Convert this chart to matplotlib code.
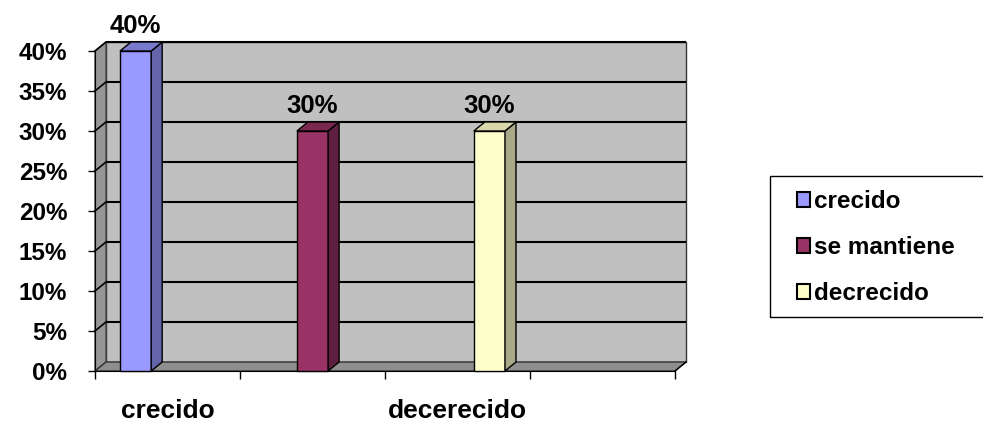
import matplotlib
matplotlib.use("Agg")
import matplotlib.pyplot as plt
from matplotlib.patches import Polygon, Rectangle, Patch

# ── data ──────────────────────────────────────────────────────────────────────
categories = ["crecido", "", "decerecido", ""]
series_names = ["crecido", "se mantiene", "decrecido"]
crecido = [40, 0, 0, 0]
se_mantiene = [0, 30, 0, 0]
decrecido = [0, 0, 30, 0]
y_ticks = [0, 5, 10, 15, 20, 25, 30, 35, 40]

# ── style ─────────────────────────────────────────────────────────────────────
front = ["#9999FF", "#993366", "#FFFFCC"]
side = ["#6464AA", "#5E1F40", "#A9A98A"]
top = ["#7878CC", "#7A2850", "#D8D8AA"]
wall = "#C0C0C0"
side_wall = "#979797"
floor = "#8E8E8E"

plt.rcParams["font.family"] = ["Liberation Sans", "DejaVu Sans"]
plt.rcParams["font.weight"] = "bold"

fig = plt.figure(figsize=(9.83, 4.26), dpi=100)
W, H = 983, 426
ax = fig.add_axes([95 / W, 55 / H, 580 / W, 320 / H])
ncat = len(categories)
ymax = y_ticks[-1]
ax.set_xlim(0, ncat)
ax.set_ylim(0, ymax)
ax.patch.set_visible(False)

# depth of the fake 3D box, in data units (~11 px across, ~9 px up)
DX = 11 / 145
DY = 9 / 8

# walls
ax.add_patch(Polygon([(DX, DY), (ncat + DX, DY), (ncat + DX, ymax + DY), (DX, ymax + DY)],
                     closed=True, facecolor=wall, edgecolor="#333333", lw=1.0,
                     zorder=0.5, clip_on=False))
ax.add_patch(Polygon([(0, 0), (DX, DY), (DX, ymax + DY), (0, ymax)],
                     closed=True, facecolor=side_wall, edgecolor="#444444", lw=1.0,
                     zorder=0.6, clip_on=False))
ax.add_patch(Polygon([(0, 0), (ncat, 0), (ncat + DX, DY), (DX, DY)],
                     closed=True, facecolor=floor, edgecolor="#333333", lw=1.0,
                     zorder=0.7, clip_on=False))

# gridlines on back wall and left wall
for t in y_ticks[1:]:
    ax.plot([DX, ncat + DX], [t + DY, t + DY], color="black", lw=1.5,
            zorder=1, clip_on=False, solid_capstyle="butt")
    ax.plot([0, DX], [t, t + DY], color="black", lw=1.2, zorder=1, clip_on=False)

# bars: front faces via ax.bar, side/top faces as polygons
bw = 0.215
offsets = [-0.22, 0.0, 0.22]
for i, vals in enumerate([crecido, se_mantiene, decrecido]):
    xs = [c + 0.5 + offsets[i] for c in range(ncat)]
    xv = [x for x, v in zip(xs, vals) if v > 0]
    vv = [v for v in vals if v > 0]
    ax.bar(xv, vv, width=bw, color=front[i], edgecolor="black", lw=1.0,
           zorder=3, clip_on=False)
    for x, v in zip(xv, vv):
        r, l = x + bw / 2, x - bw / 2
        ax.add_patch(Polygon([(r, 0), (r + DX, DY), (r + DX, v + DY), (r, v)],
                             closed=True, facecolor=side[i], edgecolor="black",
                             lw=1.0, zorder=3, clip_on=False))
        ax.add_patch(Polygon([(l, v), (l + DX, v + DY), (r + DX, v + DY), (r, v)],
                             closed=True, facecolor=top[i], edgecolor="black",
                             lw=1.0, zorder=3, clip_on=False))
        ax.annotate(f"{v}%", (x, v + DY), xytext=(0, 3), textcoords="offset points",
                    ha="center", va="bottom", fontsize=18.5, fontweight="bold",
                    annotation_clip=False)

# axes lines and ticks
for s in ["top", "right"]:
    ax.spines[s].set_visible(False)
ax.spines["left"].set_color("black")
ax.spines["bottom"].set_color("black")
ax.plot([ncat, ncat + DX], [0, DY], color="black", lw=1.0, clip_on=False, zorder=1)

ax.set_yticks(y_ticks)
ax.set_yticklabels([f"{t}%" for t in y_ticks], fontsize=17.5, fontweight="bold")
ax.tick_params(axis="y", direction="out", length=5, width=1, pad=15)

ax.set_xticks(range(ncat + 1))
ax.set_xticklabels([])
ax.set_xticks([c + 0.5 for c in range(ncat)], minor=True)
ax.set_xticklabels(categories, minor=True, fontsize=19, fontweight="bold")
ax.tick_params(axis="x", which="major", direction="out", length=6, width=1)
ax.tick_params(axis="x", which="minor", length=0, pad=20)

# legend
handles = [Patch(facecolor=c, edgecolor="black", lw=1.5) for c in front]
fig.legend(handles, series_names, loc="upper left",
           bbox_to_anchor=(780 / W, 1 - 173 / H), frameon=False,
           fontsize=17.5, handlelength=0.55, handleheight=0.55,
           handletextpad=0.15, labelspacing=0.95, borderpad=0.2)
fig.add_artist(Rectangle((770 / W, 1 - 317 / H), 0.3, 141 / H,
                         transform=fig.transFigure, fill=False,
                         edgecolor="black", lw=1.0))

fig.savefig("out.png", dpi=100)
